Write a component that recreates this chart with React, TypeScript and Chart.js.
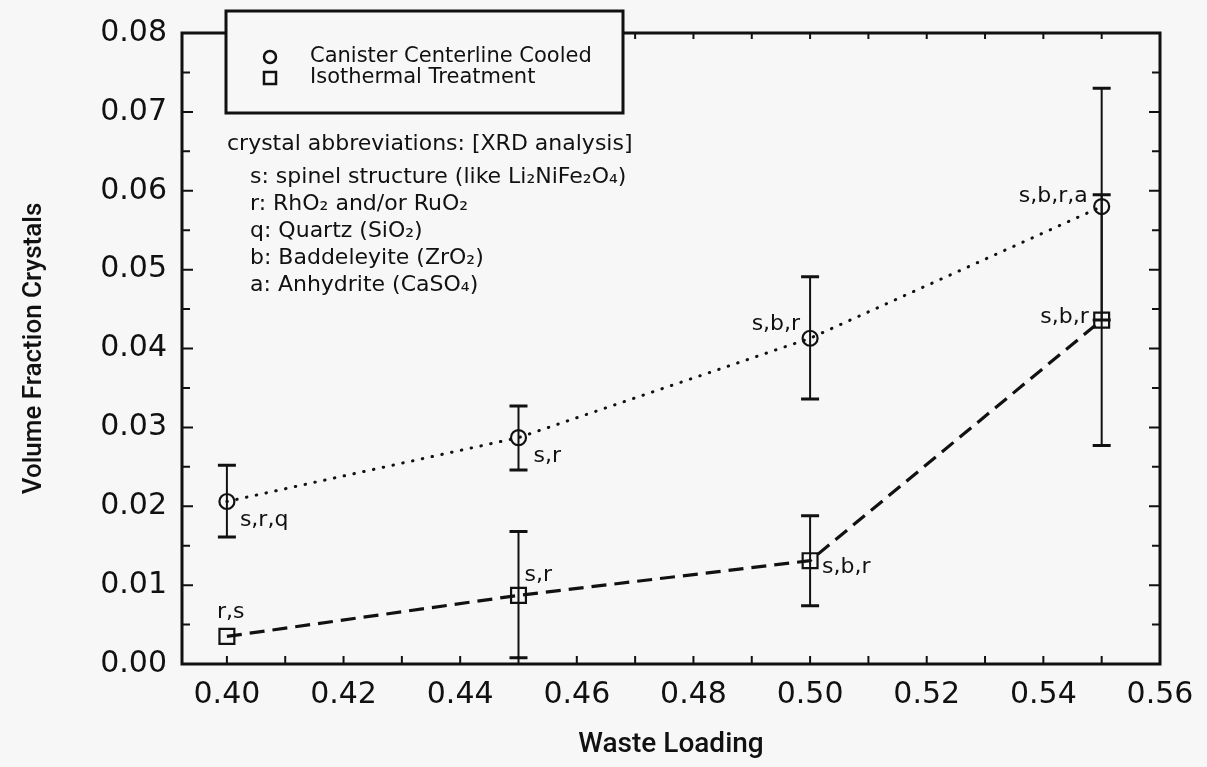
import React, { useEffect, useRef } from "react";
import { Chart, registerables } from "chart.js";

Chart.register(...registerables);

// ---------- data ----------
const wasteLoading = [0.4, 0.45, 0.5, 0.55];

const cccValues = [0.0206, 0.0287, 0.0413, 0.058];
const cccErrLow = [0.0161, 0.0246, 0.0336, 0.0436];
const cccErrHigh = [0.0252, 0.0327, 0.0491, 0.073];

const itValues = [0.0035, 0.0087, 0.0131, 0.0436];
const itErrLow: (number | null)[] = [null, 0.0008, 0.0074, 0.0277];
const itErrHigh: (number | null)[] = [null, 0.0168, 0.0188, 0.0595];

const cccTags = ["s,r,q", "s,r", "s,b,r", "s,b,r,a"];
const itTags = ["r,s", "s,r", "s,b,r", "s,b,r"];

const seriesNames = ["Canister Centerline Cooled", "Isothermal Treatment"];

const abbrevTitle = "crystal abbreviations: [XRD analysis]";
const abbrevLines = [
  "s: spinel structure (like Li₂NiFe₂O₄)",
  "r: RhO₂ and/or RuO₂",
  "q: Quartz (SiO₂)",
  "b: Baddeleyite (ZrO₂)",
  "a: Anhydrite (CaSO₄)",
];

const xTickLabels = [0.4, 0.42, 0.44, 0.46, 0.48, 0.5, 0.52, 0.54, 0.56];
const xMinorTicks = [0.4, 0.41, 0.42, 0.43, 0.44, 0.45, 0.46, 0.47, 0.48, 0.49, 0.5, 0.51, 0.52, 0.53, 0.54, 0.55];
const yTickLabels = [0, 0.01, 0.02, 0.03, 0.04, 0.05, 0.06, 0.07, 0.08];
const yMinorTicks = [0.005, 0.01, 0.015, 0.02, 0.025, 0.03, 0.035, 0.04, 0.045, 0.05, 0.055, 0.06, 0.065, 0.07, 0.075];

const xTitle = "Waste Loading";
const yTitle = "Volume Fraction Crystals";

// ---------- styles ----------
const INK = "#111111";
const BG = "#f7f7f7";
const FONT = "'DejaVu Sans', sans-serif";
const TITLE_FONT = "Roboto, 'DejaVu Sans', sans-serif";

const cccTagPos = [
  { dx: 13, dy: 19, align: "left" },
  { dx: 15, dy: 19, align: "left" },
  { dx: -10, dy: -14, align: "right" },
  { dx: -14, dy: -10, align: "right" },
];
const itTagPos = [
  { dx: -10, dy: -24, align: "left" },
  { dx: 6, dy: -20, align: "left" },
  { dx: 12, dy: 7, align: "left" },
  { dx: -13, dy: -3, align: "right" },
];

const decorPlugin = {
  id: "decor",
  beforeDraw(chart: any) {
    const { ctx, width, height } = chart;
    ctx.save();
    ctx.fillStyle = BG;
    ctx.fillRect(0, 0, width, height);
    ctx.restore();
  },
  afterDatasetsDraw(chart: any) {
    const { ctx } = chart;
    const xs = chart.scales.x;
    const ys = chart.scales.y;
    const bars = [
      { low: cccErrLow, high: cccErrHigh },
      { low: itErrLow, high: itErrHigh },
    ];
    ctx.save();
    ctx.strokeStyle = INK;
    bars.forEach((b) => {
      wasteLoading.forEach((xv, i) => {
        const lo = b.low[i];
        const hi = b.high[i];
        if (lo == null || hi == null) return;
        const px = xs.getPixelForValue(xv);
        const pl = ys.getPixelForValue(lo);
        const ph = ys.getPixelForValue(hi);
        ctx.lineWidth = 2;
        ctx.beginPath();
        ctx.moveTo(px, pl);
        ctx.lineTo(px, ph);
        ctx.stroke();
        ctx.lineWidth = 3;
        ctx.beginPath();
        ctx.moveTo(px - 9, pl);
        ctx.lineTo(px + 9, pl);
        ctx.moveTo(px - 9, ph);
        ctx.lineTo(px + 9, ph);
        ctx.stroke();
      });
    });
    ctx.restore();
  },
  afterDraw(chart: any) {
    const { ctx, chartArea } = chart;
    const { left, right, top, bottom } = chartArea;
    const xs = chart.scales.x;
    const ys = chart.scales.y;
    ctx.save();
    ctx.strokeStyle = INK;
    // inward ticks
    ctx.lineWidth = 2;
    ctx.beginPath();
    xMinorTicks.forEach((v) => {
      const px = xs.getPixelForValue(v);
      ctx.moveTo(px, bottom);
      ctx.lineTo(px, bottom - 8);
      ctx.moveTo(px, top);
      ctx.lineTo(px, top + 6);
    });
    yMinorTicks.forEach((v) => {
      const py = ys.getPixelForValue(v);
      const major = Math.abs(v * 100 - Math.round(v * 100)) < 1e-6;
      ctx.moveTo(left, py);
      ctx.lineTo(left + (major ? 11 : 8), py);
      ctx.moveTo(right, py);
      ctx.lineTo(right - (major ? 11 : 8), py);
    });
    ctx.stroke();
    // frame
    ctx.lineWidth = 3;
    ctx.strokeRect(left, top, right - left, bottom - top);

    // point tags
    ctx.fillStyle = INK;
    ctx.font = `22px ${FONT}`;
    ctx.textBaseline = "middle";
    const drawTags = (vals: number[], tags: string[], pos: any[]) => {
      vals.forEach((v, i) => {
        const px = xs.getPixelForValue(wasteLoading[i]);
        const py = ys.getPixelForValue(v);
        ctx.textAlign = pos[i].align;
        ctx.fillText(tags[i], px + pos[i].dx, py + pos[i].dy);
      });
    };
    drawTags(cccValues, cccTags, cccTagPos);
    drawTags(itValues, itTags, itTagPos);

    // legend box
    const bx = 226, by = 11, bw = 397, bh = 102;
    ctx.fillStyle = BG;
    ctx.fillRect(bx, by, bw, bh);
    ctx.lineWidth = 3;
    ctx.strokeRect(bx, by, bw, bh);
    ctx.lineWidth = 2.5;
    ctx.beginPath();
    ctx.arc(270, 57, 6, 0, Math.PI * 2);
    ctx.stroke();
    ctx.strokeRect(264, 72, 12, 12);
    ctx.fillStyle = INK;
    ctx.textAlign = "left";
    ctx.font = `21px ${FONT}`;
    ctx.fillText(seriesNames[0], 310, 57);
    ctx.fillText(seriesNames[1], 310, 78);

    // abbreviations
    ctx.font = `22px ${FONT}`;
    ctx.fillText(abbrevTitle, 227, 144);
    abbrevLines.forEach((t, i) => {
      ctx.fillText(t, 250, 177 + i * 27);
    });
    ctx.restore();
  },
};

export default function App() {
  const canvasRef = useRef<HTMLCanvasElement | null>(null);

  useEffect(() => {
    const canvas = canvasRef.current;
    if (!canvas) return;
    const chart = new Chart(canvas, {
      type: "line",
      data: {
        datasets: [
          {
            label: seriesNames[0],
            data: wasteLoading.map((x, i) => ({ x, y: cccValues[i] })),
            borderColor: INK,
            borderWidth: 3,
            borderDash: [0.5, 9.5],
            borderCapStyle: "round",
            pointStyle: "circle",
            pointRadius: 7.5,
            pointBorderWidth: 2.2,
            pointBorderColor: INK,
            pointBackgroundColor: "rgba(0,0,0,0)",
            tension: 0,
            fill: false,
          },
          {
            label: seriesNames[1],
            data: wasteLoading.map((x, i) => ({ x, y: itValues[i] })),
            borderColor: INK,
            borderWidth: 3.2,
            borderDash: [15, 8],
            borderCapStyle: "butt",
            pointStyle: "rect",
            pointRadius: 10.5,
            pointBorderWidth: 2.2,
            pointBorderColor: INK,
            pointBackgroundColor: "rgba(0,0,0,0)",
            tension: 0,
            fill: false,
          },
        ],
      },
      options: {
        responsive: false,
        animation: false,
        devicePixelRatio: 1,
        layout: { padding: { left: 0, right: 47, top: 28, bottom: 0 } },
        plugins: {
          legend: { display: false },
          tooltip: { enabled: false },
        },
        scales: {
          x: {
            type: "linear",
            position: "bottom",
            min: 0.3923,
            max: 0.56,
            grid: { display: false, drawTicks: false },
            border: { display: false },
            afterBuildTicks: (scale: any) => {
              scale.ticks = xTickLabels.map((v) => ({ value: v }));
            },
            afterFit: (scale: any) => {
              scale.height = 103;
            },
            ticks: {
              color: INK,
              padding: 13,
              maxRotation: 0,
              autoSkip: false,
              font: { family: FONT, size: 30 },
              callback: (v: any) => Number(v).toFixed(2),
            },
            title: {
              display: true,
              text: xTitle,
              color: INK,
              font: { family: TITLE_FONT, size: 28, weight: "500" },
              padding: { top: 0, bottom: 5 },
            },
          },
          y: {
            type: "linear",
            position: "left",
            min: 0,
            max: 0.08,
            grid: { display: false, drawTicks: false },
            border: { display: false },
            afterBuildTicks: (scale: any) => {
              scale.ticks = yTickLabels.map((v) => ({ value: v }));
            },
            afterFit: (scale: any) => {
              scale.width = 182;
            },
            ticks: {
              color: INK,
              padding: 15,
              autoSkip: false,
              font: { family: FONT, size: 30 },
              callback: (v: any) => Number(v).toFixed(2),
            },
            title: {
              display: true,
              text: yTitle,
              color: INK,
              font: { family: TITLE_FONT, size: 26, weight: "500" },
              padding: { top: 19, bottom: 0 },
            },
          },
        },
      },
      plugins: [decorPlugin],
    } as any);
    return () => chart.destroy();
  }, []);

  return (
    <div style={{ position: "absolute", left: 0, top: 0, width: 1207, height: 767, background: BG }}>
      <canvas ref={canvasRef} width={1207} height={767} style={{ width: 1207, height: 767, display: "block" }} />
    </div>
  );
}
